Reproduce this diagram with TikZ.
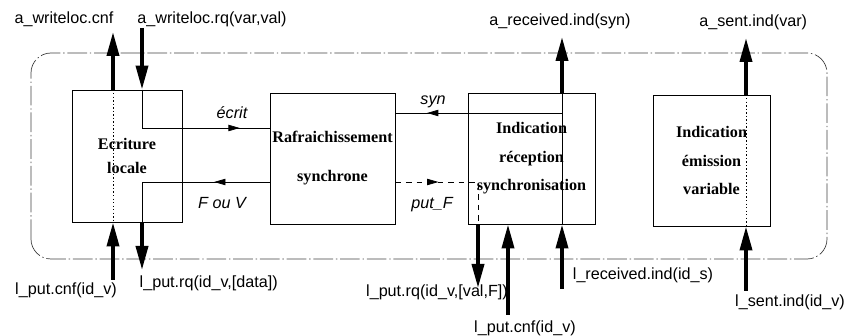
\documentclass[tikz,border=0pt]{standalone}
\usepackage{fontspec}
\setmainfont{Liberation Serif}
\setsansfont{Liberation Sans}
\usepackage{tikz}
\usetikzlibrary{arrows.meta,calc,decorations.markings,positioning}
\newcommand{\blocfont}{\fontsize{11.5}{13.8}\selectfont\bfseries}
\newcommand{\primfont}{\fontsize{11.5}{13.8}\selectfont\sffamily}
\newcommand{\msgfont}{\fontsize{11.5}{13.8}\selectfont\sffamily\itshape}

\begin{document}
\begin{tikzpicture}[>=Stealth,
  bloc/.style={draw,line width=0.6pt,align=center,font=\blocfont,inner sep=0pt},
  prim/.style={font=\primfont,inner sep=1pt},
  msg/.style={font=\msgfont,inner sep=1pt},
  fleche/.style={-{Triangle[length=0.6cm,width=0.3cm]},line width=2.6pt},
  fil/.style={line width=0.5pt},
  trait/.style={line width=0.5pt,dash pattern=on 4pt off 3.5pt},
  pointille/.style={line width=0.5pt,dash pattern=on 1pt off 1.5pt},
  midarrow/.style={postaction={decorate},decoration={markings,mark=at position #1 with {\arrow{Triangle[length=8pt,width=4.5pt]}}}}]
\useasboundingbox (0,0) rectangle (21.15,8.4);
% cadre du systeme
\draw[line width=0.5pt,black!75,dash pattern=on 14pt off 2pt on 1pt off 2pt,rounded corners=0.5cm] (0.775,1.925) rectangle (20.675,7.075);
% blocs
\node[bloc,minimum width=2.75cm,minimum height=3.3cm] (ecr) at (3.175,4.5) {Ecriture\\[2.6pt]locale};
\node[bloc,minimum width=3.125cm,minimum height=3.275cm] (raf) at (8.3125,4.4375) {Rafraichissement\\[14pt]synchrone};
\node[bloc,minimum width=3.175cm,minimum height=3.275cm] (rec) at (13.2875,4.4375) {Indication\\[6.5pt]réception\\[6.5pt]synchronisation};
\node[bloc,minimum width=2.925cm,minimum height=3.275cm] (emi) at (17.7875,4.3875) {Indication\\[6.5pt]émission\\[6.5pt]variable};
% extremites libres des primitives
\coordinate (t1) at (2.825,7.6);
\coordinate (t2) at (3.55,7.7);
\coordinate (t3) at (14.05,7.475);
\coordinate (t4) at (18.65,7.45);
\coordinate (b1) at (2.825,1.4);
\coordinate (b2) at (3.55,1.65);
\coordinate (b3) at (11.95,1.2);
\coordinate (b4) at (12.7,0.525);
\coordinate (b5) at (14.05,1.175);
\coordinate (b6) at (18.65,1.125);
% coins des echanges internes
\coordinate (e) at (3.55,5.2);
\coordinate (f) at (3.55,3.85);
\coordinate (p) at (11.95,3.85);
\coordinate (s) at (14.05,5.575);
% traversees des blocs
\draw[pointille] (ecr.north -| t1) -- (ecr.south -| t1);
\draw[fil] (rec.north -| t3) -- (rec.south -| t3);
\draw[pointille] (emi.north -| t4) -- (emi.south -| t4);
% echanges entre blocs
\draw[fil,midarrow=0.82] (ecr.north -| e) -- (e) -- (e -| raf.west);
\draw[fil,midarrow=0.33] (raf.west |- f) -- (f) -- (ecr.south -| f);
\draw[trait,midarrow=0.344] (raf.east |- p) -- (p) -- (rec.south -| p);
\draw[fil,midarrow=0.81] (s) -- (s -| raf.east);
\node[msg] (ec) at (5.8,5.575) {écrit};
\node[msg] (sy) at (10.825,5.85) {syn};
\node[msg] (fv) at (5.55,3.325) {F ou V};
\node[msg] (pf) at (10.8,3.275) {put\_F};
% primitives
\draw[fleche] (ecr.north -| t1) -- (t1);
\draw[fleche] (t2) -- (ecr.north -| t2);
\draw[fleche] (rec.north -| t3) -- (t3);
\draw[fleche] (emi.north -| t4) -- (t4);
\draw[fleche] (b1) -- (ecr.south -| b1);
\draw[fleche] (ecr.south -| b2) -- (b2);
\draw[fleche] (rec.south -| b3) -- (b3);
\draw[fleche] (b4) -- (rec.south -| b4);
\draw[fleche] (b5) -- (rec.south -| b5);
\draw[fleche] (b6) -- (emi.south -| b6);
\node[prim] (awc) at (1.6,7.925) {a\_writeloc.cnf};
\node[prim] (awr) at (5.3,7.925) {a\_writeloc.rq(var,val)};
\node[prim] (ari) at (14.0,7.875) {a\_received.ind(syn)};
\node[prim] (asi) at (18.83,7.85) {a\_sent.ind(var)};
\node[prim] (lpc) at (1.65,1.15) {l\_put.cnf(id\_v)};
\node[prim,anchor=west] (lpr) at (3.45,1.325) {l\_put.rq(id\_v,[data])};
\node[prim] (lpv) at (10.925,1.1) {l\_put.rq(id\_v,[val,F])};
\node[prim] (lpc2) at (13.125,0.2) {l\_put.cnf(id\_v)};
\node[prim] (lri) at (16.075,1.525) {l\_received.ind(id\_s)};
\node[prim] (lsi) at (19.75,0.85) {l\_sent.ind(id\_v)};
\end{tikzpicture}
\end{document}
